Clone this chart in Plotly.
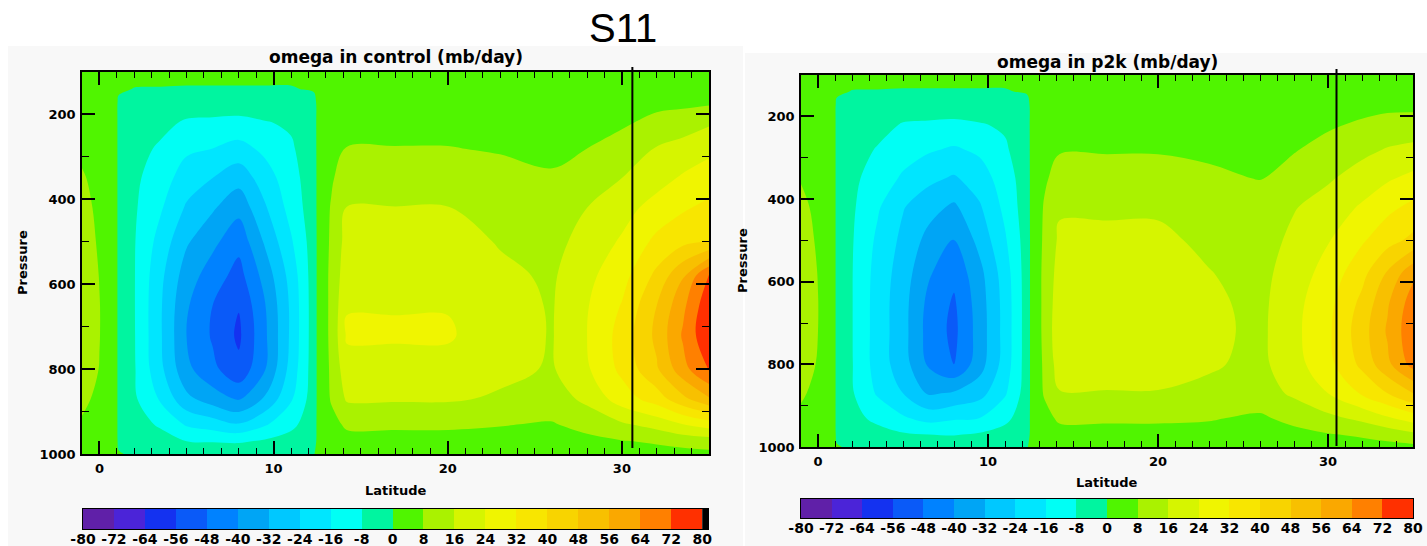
import numpy as np
import plotly.graph_objects as go

# ---------------- data ----------------
lat = [-1, 0, 0.9, 1.1, 2, 3.5, 5, 6.5, 8, 9.5, 11, 12.3, 12.6, 13.3, 14.2, 17, 20, 23, 26, 28, 30, 32, 33.5, 35]
pressure = [100, 140, 170, 220, 280, 350, 420, 500, 580, 650, 720, 800, 870, 930, 970, 1000]

# omega (mb/day), one list per latitude column, values ordered by pressure (top -> bottom)
omega_control = [
    [2, 2, 3, 4, 6, 9, 11, 12, 13, 13, 13, 12, 10, 7, 5, 4],
    [1, 1, 2, 3, 4, 5, 6, 7, 7.8, 8.2, 8.2, 7.8, 6, 5, 4, 3],
    [2, 2, 2.5, 3, 3, 3, 3, 3, 3, 3, 3, 3, 3, 3, 3, 2.5],
    [2, 1, -1, -1.5, -1.5, -1.5, -1.5, -1.5, -1.5, -1.5, -1.5, -1.5, -1.5, -1.5, -1.2, 0.5],
    [2, -0.2, -3, -4.5, -5.5, -6.5, -7, -7.5, -7.6, -7.6, -7.5, -7.3, -6.8, -5, -3, -1],
    [2, -0.3, -3.5, -6, -9, -12, -15, -19, -22, -23, -23, -22, -17, -9, -5, -1.5],
    [2, -0.5, -4, -9, -14.5, -20, -25, -31, -36, -39, -40, -38, -30, -17, -8, -2],
    [2, -0.5, -4, -9.5, -16, -24, -31, -38, -44, -48, -49, -46, -36, -20, -8.5, -2],
    [2, -0.5, -4, -10, -19, -29, -37.5, -45.5, -51, -55.5, -57.5, -54, -41, -23.5, -9, -2],
    [2, -0.5, -3.5, -8.5, -14, -20, -25, -31, -37, -40.5, -41.5, -40.5, -31, -17, -7, -2],
    [2, -0.5, -3, -7, -9, -11, -13, -17, -21, -22.5, -22.5, -21, -17, -10, -5, -2],
    [2, 0.8, -2.5, -3, -3.2, -3.5, -3.5, -4, -4, -4, -4, -4, -4, -3.5, -3, -0.5],
    [2.5, 2.5, 3, 3, 3, 3, 3, 3, 3, 3, 3, 3, 3, 3, 3, 2.5],
    [3, 3, 3.5, 4, 5, 7, 8.5, 9, 9.5, 9.5, 9.5, 9, 8.5, 6, 4, 3],
    [3, 3.5, 4, 6, 8.2, 12, 16.2, 19, 21, 23.5, 25, 21, 17, 9, 6, 4],
    [3, 3.5, 4, 6, 8.2, 12, 16.2, 19, 21, 23.5, 25, 21, 17, 9, 6, 4],
    [3, 3.5, 4, 6, 8.2, 12, 16.2, 19, 21, 23.5, 25, 21, 17, 9, 6, 4],
    [3, 3.5, 4, 5.5, 7.5, 10, 13, 15.5, 17.5, 18.5, 19, 18, 15, 8.3, 6, 4],
    [2.5, 3, 3.5, 5, 7, 8.5, 11, 13.5, 15, 15.5, 15.6, 15.3, 12, 7.5, 5, 3],
    [3, 3.5, 4, 5.5, 8, 12, 16, 19, 22, 23.5, 24, 23, 18, 10.5, 6, 3.5],
    [3, 4, 5, 7, 11, 16, 21, 25, 29, 32.5, 35, 34, 28, 15, 7.5, 4],
    [4, 5, 6, 10, 16.5, 21, 27, 34, 42, 48, 50, 47, 36, 19, 9, 5],
    [4, 5, 6, 12, 19, 25, 31, 38, 55, 62, 65, 61, 46, 24, 11, 5],
    [4, 5, 6.5, 15, 22, 28, 34, 40, 73, 78, 79, 73, 55, 28, 12, 6],
]

omega_p2k = [
    [2, 2, 3, 4, 5.5, 7.5, 10, 11.5, 12.5, 12.5, 12, 11, 9, 6.5, 5, 4],
    [1, 1, 2, 3, 4, 5, 6, 7, 7.8, 8.1, 8, 7.5, 6, 5, 4, 3],
    [2, 2, 2.5, 3, 3, 3, 3, 3, 3, 3, 3, 3, 3, 3, 3, 2.5],
    [2, 1, -1, -1.5, -1.5, -1.5, -1.5, -1.5, -1.5, -1.5, -1.5, -1.5, -1.5, -1.5, -1.2, 0.5],
    [2, -0.2, -3, -4, -5, -6, -6.8, -7.4, -7.7, -7.7, -7.7, -7.6, -7.2, -5.5, -3, -1],
    [2, -0.3, -3, -5.5, -8.5, -12, -15, -17.5, -19, -19.5, -19.5, -19.5, -17, -10, -5, -1.5],
    [2, -0.5, -4, -8.5, -13, -17, -23.5, -26, -28, -29, -29, -28.5, -24, -15, -7, -2],
    [2, -0.5, -4, -9, -15, -22, -29, -34.5, -39, -42, -43, -41, -33, -19, -8, -2],
    [2, -0.5, -4, -9.5, -17, -25, -33.5, -40.5, -46, -49, -50, -48, -31, -17, -8.5, -2],
    [2, -0.5, -3.5, -8.5, -14.5, -20, -25, -29.5, -34.5, -36, -36.5, -35.5, -27, -16, -7, -2],
    [2, -0.5, -3, -7, -9, -12, -14, -17, -20, -21, -21, -20.5, -17, -10, -5, -2],
    [2, 0.8, -2.5, -3, -3.2, -3.5, -3.5, -4, -4, -4, -4, -4, -4, -3.5, -3, -0.5],
    [2.5, 2.5, 3, 3, 3, 3, 3, 3, 3, 3, 3, 3, 3, 3, 3, 2.5],
    [3, 3, 3.5, 4, 5, 7, 8.5, 9, 9.5, 9.5, 9.5, 9, 8.5, 6, 4, 3],
    [3, 3.5, 4, 5.5, 7.5, 10.5, 15, 17.5, 19.5, 21, 22, 20, 15.5, 9, 6, 4],
    [3, 3.5, 4, 5.5, 7.5, 10.5, 15, 17.5, 19.5, 21, 22, 20, 15.5, 9, 6, 4],
    [3, 3.5, 4, 5.5, 7.5, 10.5, 15, 17.5, 19.5, 21, 22, 20, 15.5, 9, 6, 4],
    [3, 3.5, 4, 5, 7, 9, 12, 14.5, 16.3, 17.5, 18, 17, 14, 8.5, 6, 4],
    [2.5, 3, 3.5, 4.5, 6, 7.8, 10, 12, 13.5, 14, 14.2, 14, 12, 7, 5.5, 3],
    [3, 3.5, 4, 5.5, 7.5, 11, 15.5, 18, 20, 21.5, 22, 21, 17.5, 10, 6, 3.5],
    [3, 3.5, 4.5, 7, 10.5, 15, 19.5, 23.5, 27, 29.5, 30.5, 29.5, 24, 14, 7.5, 4],
    [3.5, 4.5, 5.5, 9, 14, 19.5, 25, 31, 37.5, 42, 44.5, 42, 33, 18, 9, 5],
    [4, 5, 6, 10.5, 16.5, 23, 30, 37, 49, 55, 57, 54, 40, 23, 11, 5.5],
    [4, 5, 6, 11, 18, 26, 34, 42, 62, 68, 70, 67, 48, 28, 14, 6],
]

levels = [-80, -72, -64, -56, -48, -40, -32, -24, -16, -8, 0, 8, 16, 24, 32, 40, 48, 56, 64, 72, 80]
band_colors = ["#6020A8", "#4B24D8", "#1432F0", "#0A5AF8", "#0082FF", "#00A5F5", "#00C8FF",
               "#00E6FF", "#00FFF5", "#00F5A0", "#50F500", "#AAF200", "#D6F500", "#F0F500",
               "#F8E600", "#F8D400", "#F8C000", "#FAA800", "#FF8000", "#FF3000"]
ref_lat_control = 30.6
ref_lat_p2k = 30.5

# ---------------- styling ----------------
W, H = 1427, 546
def fx(px): return px / W
def fy(py): return 1 - py / H

FONT = "DejaVu Sans"
tick_font = dict(family=FONT, size=13, color="black", weight="bold")

# colourscale for filled contours (plotly maps 22 bands at k/21)
cont_cols = [band_colors[0]] + band_colors + ["#000000"]
nb = len(cont_cols) - 1
contour_scale = []
for k, c in enumerate(cont_cols):
    contour_scale.append([max(0.0, (k - 0.5) / nb), c])
    contour_scale.append([min(1.0, (k + 0.5) / nb), c])

# stepped colourscale for the colour bars
nbar = len(band_colors)
bar_scale = []
for k, c in enumerate(band_colors):
    bar_scale.append([k / nbar, c])
    bar_scale.append([(k + 1) / nbar, c])
bar_mids = [(levels[i] + levels[i + 1]) / 2 for i in range(nbar)]

panels = [
    dict(data=omega_control, title="omega in control (mb/day)", xd=(82, 709), yd=(72, 454),
         cb=(83, 708, 509, 529), cbr=81.5, title_y=57, xlab_y=490, ylab_x=22, ref=ref_lat_control,
         line_y=(67, 448)),
    dict(data=omega_p2k, title="omega in p2k (mb/day)", xd=(801, 1413), yd=(75, 447),
         cb=(801, 1413, 499, 518), cbr=80, title_y=62, xlab_y=482, ylab_x=742, ref=ref_lat_p2k,
         line_y=(69, 446)),
]

fig = go.Figure()
layout = dict(width=W, height=H, margin=dict(l=0, r=0, t=0, b=0, autoexpand=False),
              paper_bgcolor="white", plot_bgcolor="white", showlegend=False)
annotations = []
shapes = [
    dict(type="rect", xref="paper", yref="paper", x0=fx(8), x1=fx(743), y0=0, y1=fy(46),
         fillcolor="#F8F8F8", line=dict(width=0), layer="below"),
    dict(type="rect", xref="paper", yref="paper", x0=fx(745), x1=1, y0=0, y1=fy(53),
         fillcolor="#F8F8F8", line=dict(width=0), layer="below"),
]

for i, p in enumerate(panels):
    n = i + 1
    xs = "" if n == 1 else str(n)
    cn = str(n + 2)
    z = np.array(p["data"], dtype=float).T.tolist()
    fig.add_trace(go.Contour(
        x=lat, y=pressure, z=z, xaxis="x" + xs, yaxis="y" + xs, autocontour=False,
        contours=dict(start=levels[0], end=levels[-1], size=levels[1] - levels[0],
                      coloring="fill", showlines=False),
        line=dict(width=0), colorscale=contour_scale, showscale=False, hoverinfo="skip"))
    fig.add_trace(go.Heatmap(
        x=levels, y=[0, 1], z=[bar_mids], colorscale=bar_scale, zmin=levels[0], zmax=levels[-1],
        showscale=False, xaxis="x" + cn, yaxis="y" + cn, hoverinfo="skip"))

    x0, x1 = p["xd"]
    y0, y1 = p["yd"]
    layout["xaxis" + xs] = dict(
        domain=[fx(x0), fx(x1)], range=[-1, 35], anchor="y" + xs, showline=True, linecolor="black",
        linewidth=1.5, mirror="ticks", ticks="inside", ticklen=13, tickwidth=1.5, tickcolor="black",
        tick0=0, dtick=10, minor=dict(dtick=1, tick0=0, ticklen=6, tickwidth=1.2, tickcolor="black",
                                      ticks="inside", showgrid=False),
        showgrid=False, zeroline=False, tickfont=tick_font, ticklabelstandoff=2, automargin=False)
    layout["yaxis" + xs] = dict(
        domain=[fy(y1), fy(y0)], range=[1000, 100], anchor="x" + xs, showline=True,
        linecolor="black", linewidth=1.5, mirror="ticks", ticks="inside", ticklen=13,
        tickwidth=1.5, tickcolor="black", tick0=0, dtick=200,
        minor=dict(dtick=100, tick0=0, ticklen=7, tickwidth=1.2, tickcolor="black",
                   ticks="inside", showgrid=False),
        showgrid=False, zeroline=False, tickfont=tick_font, ticklabelstandoff=2, automargin=False)

    cx0, cx1, cy0, cy1 = p["cb"]
    layout["xaxis" + cn] = dict(
        domain=[fx(cx0), fx(cx1)], range=[levels[0], p["cbr"]], anchor="y" + cn, showline=True,
        linecolor="black", linewidth=1.2, mirror=True, ticks="", tickmode="array",
        tickvals=levels, ticktext=[str(v) for v in levels], showgrid=False, zeroline=False,
        tickfont=dict(family=FONT, size=14, color="black", weight="bold"), ticklabelstandoff=-3,
        automargin=False)
    layout["yaxis" + cn] = dict(
        domain=[fy(cy1), fy(cy0)], range=[0, 1], anchor="x" + cn, showline=True,
        linecolor="black", linewidth=1.2, mirror=True, ticks="", showticklabels=False,
        showgrid=False, zeroline=False, automargin=False)
    if p["cbr"] > levels[-1]:
        shapes.append(dict(type="rect", xref="x" + cn, yref="y" + cn, x0=levels[-1], x1=p["cbr"],
                           y0=0, y1=1, fillcolor="black", line=dict(width=0)))

    ly0, ly1 = p["line_y"]
    shapes.append(dict(type="line", xref="x" + xs, yref="paper", x0=p["ref"], x1=p["ref"],
                       y0=fy(ly1), y1=fy(ly0), line=dict(color="black", width=2)))

    cxm = (x0 + x1) / 2
    annotations.append(dict(text=p["title"], xref="paper", yref="paper", x=fx(cxm), y=fy(p["title_y"]),
                            xanchor="center", yanchor="middle", showarrow=False,
                            font=dict(family=FONT, size=17, color="black", weight="bold")))
    annotations.append(dict(text="Latitude", xref="paper", yref="paper", x=fx(cxm), y=fy(p["xlab_y"]),
                            xanchor="center", yanchor="middle", showarrow=False,
                            font=dict(family=FONT, size=13, color="black", weight="bold")))
    annotations.append(dict(text="Pressure", xref="paper", yref="paper", x=fx(p["ylab_x"]),
                            y=fy((y0 + y1) / 2), xanchor="center", yanchor="middle", textangle=-90,
                            showarrow=False,
                            font=dict(family=FONT, size=13, color="black", weight="bold")))

annotations.append(dict(text="S11", xref="paper", yref="paper", x=fx(623), y=fy(28),
                        xanchor="center", yanchor="middle", showarrow=False,
                        font=dict(family="Liberation Sans", size=40, color="black")))

layout["annotations"] = annotations
layout["shapes"] = shapes
fig.update_layout(**layout)
fig.write_html("out.html")
